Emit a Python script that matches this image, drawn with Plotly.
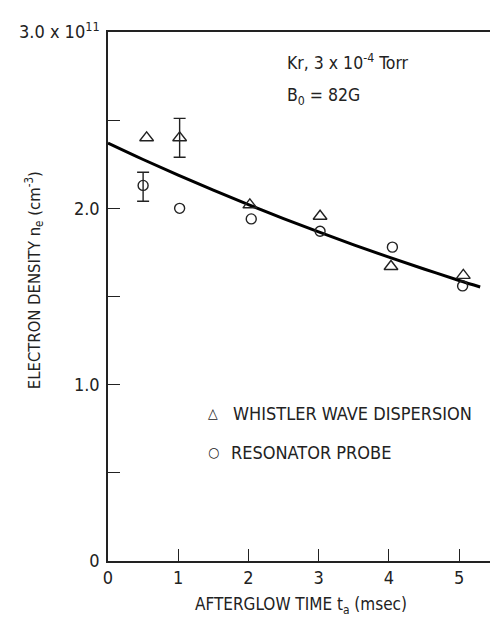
import plotly.graph_objects as go

# Whistler wave dispersion (triangles)
whistler_t = [0.55, 1.02, 2.02, 3.02, 4.03, 5.06]
whistler_n = [2.40, 2.40, 2.02, 1.955, 1.67, 1.62]
whistler_err_up = [0, 0.11, 0, 0, 0, 0]
whistler_err_dn = [0, 0.11, 0, 0, 0, 0]

# Resonator probe (circles)
probe_t = [0.50, 1.02, 2.04, 3.02, 4.05, 5.05]
probe_n = [2.13, 2.00, 1.94, 1.87, 1.78, 1.56]
probe_err_up = [0.075, 0, 0, 0, 0, 0]
probe_err_dn = [0.09, 0, 0, 0, 0, 0]

# Fitted curve
fit_t = [0, 0.5, 1, 1.5, 2, 2.5, 3, 3.5, 4, 4.5, 5, 5.3]
fit_n = [2.37, 2.277, 2.188, 2.103, 2.021, 1.942, 1.866, 1.793, 1.723, 1.656, 1.591, 1.554]

y_tickvals = [0, 1.0, 2.0, 3.0]
y_ticktext = ["0", "1.0", "2.0", "3.0 x 10<sup>11</sup>"]
y_minor_step = 0.5
x_tickvals = [0, 1, 2, 3, 4, 5]
x_ticktext = ["0", "1", "2", "3", "4", "5"]

FONT = "Liberation Sans Narrow, DejaVu Sans Condensed, Arial Narrow, sans-serif"
INK = "#222"


def add_series(t, n, up, dn, symbol, size):
    plain = [i for i in range(len(t)) if up[i] == 0 and dn[i] == 0]
    errd = [i for i in range(len(t)) if not (up[i] == 0 and dn[i] == 0)]
    mk = dict(symbol=symbol, size=size, color=INK, line=dict(width=1.4, color=INK))
    fig.add_trace(go.Scatter(x=[t[i] for i in plain], y=[n[i] for i in plain],
                             mode="markers", marker=mk, showlegend=False))
    fig.add_trace(go.Scatter(
        x=[t[i] for i in errd], y=[n[i] for i in errd], mode="markers", marker=mk,
        error_y=dict(type="data", symmetric=False, array=[up[i] for i in errd],
                     arrayminus=[dn[i] for i in errd], color=INK, thickness=1.4, width=6),
        showlegend=False))


fig = go.Figure()
fig.add_trace(go.Scatter(x=fit_t, y=fit_n, mode="lines",
                         line=dict(color="black", width=3, shape="spline"),
                         showlegend=False, hoverinfo="skip"))
add_series(whistler_t, whistler_n, whistler_err_up, whistler_err_dn, "triangle-up-open", 12)
add_series(probe_t, probe_n, probe_err_up, probe_err_dn, "circle-open", 10)


def sub(s):
    return "<sub>" + s + "</sub>"


def sup(s):
    return "<sup>" + s + "</sup>"


fig.update_layout(
    width=490, height=620,
    margin=dict(l=108, r=0, t=32, b=59),
    plot_bgcolor="white", paper_bgcolor="white",
    font=dict(family=FONT, size=17, color=INK),
    xaxis=dict(range=[0, 5.44], tickvals=x_tickvals, ticktext=x_ticktext,
               ticks="inside", ticklen=12, tickwidth=1, tickcolor=INK,
               showline=True, linecolor=INK, linewidth=1.5, mirror=True,
               showgrid=False, zeroline=False, tickfont=dict(size=18)),
    yaxis=dict(range=[0, 3.0], tickvals=y_tickvals, ticktext=y_ticktext,
               ticks="inside", ticklen=12, tickwidth=1, tickcolor=INK,
               minor=dict(ticks="inside", ticklen=12, tickwidth=1, tickcolor=INK,
                          dtick=y_minor_step, tick0=0, showgrid=False),
               showline=True, linecolor=INK, linewidth=1.5,
               showgrid=False, zeroline=False, tickfont=dict(size=18),
               ticklabelstandoff=3),
    annotations=[
        dict(text="ELECTRON DENSITY n" + sub("e") + " (cm" + sup("-3") + ")", textangle=-90,
             xref="paper", yref="paper", x=-0.195, y=0.53, showarrow=False,
             xanchor="center", yanchor="middle", font=dict(size=16.5)),
        dict(text="AFTERGLOW TIME t" + sub("a") + " (msec)", xref="paper", yref="paper",
             x=(301 - 108) / 382, y=-44 / 529, showarrow=False,
             xanchor="center", yanchor="middle", font=dict(size=17)),
        dict(text="Kr, 3 x 10" + sup("-4") + " Torr", xref="paper", yref="paper",
             x=(285 - 108) / 382, y=(561 - 62) / 529, showarrow=False,
             xanchor="left", yanchor="middle", font=dict(size=17.5)),
        dict(text="B" + sub("0") + " = 82G", xref="paper", yref="paper",
             x=(285 - 108) / 382, y=(561 - 97) / 529, showarrow=False,
             xanchor="left", yanchor="middle", font=dict(size=17.5)),
        dict(text="△", xref="paper", yref="paper",
             x=(213 - 108) / 382, y=(561 - 413) / 529, showarrow=False,
             xanchor="center", yanchor="middle", font=dict(size=14)),
        dict(text="WHISTLER WAVE DISPERSION", xref="paper", yref="paper",
             x=(231 - 108) / 382, y=(561 - 413) / 529, showarrow=False,
             xanchor="left", yanchor="middle", font=dict(size=18)),
        dict(text="○", xref="paper", yref="paper",
             x=(213 - 108) / 382, y=(561 - 452) / 529, showarrow=False,
             xanchor="center", yanchor="middle", font=dict(size=14)),
        dict(text="RESONATOR PROBE", xref="paper", yref="paper",
             x=(229 - 108) / 382, y=(561 - 452) / 529, showarrow=False,
             xanchor="left", yanchor="middle", font=dict(size=18)),
    ],
)

fig.write_html("out.html")
